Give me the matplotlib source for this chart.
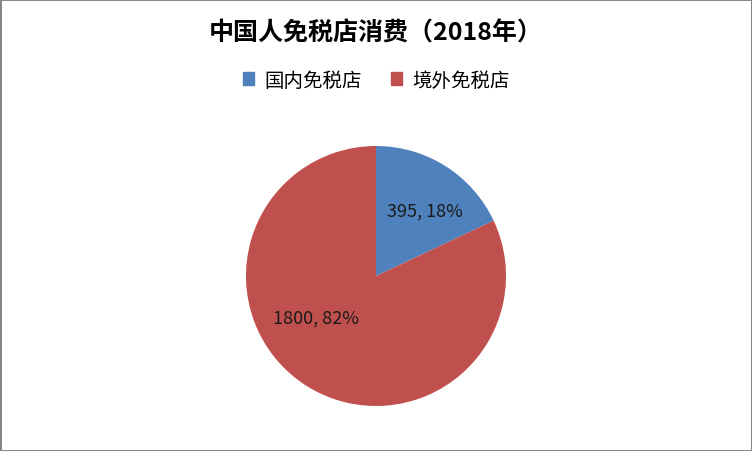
import matplotlib
matplotlib.use("Agg")
import matplotlib.pyplot as plt
import matplotlib.patches as mpatches

plt.rcParams['font.family'] = ['Noto Sans CJK SC', 'DejaVu Sans']

# data
categories = ["国内免税店", "境外免税店"]
values = [395, 1800]
colors = ["#4F81BD", "#C0504D"]
title = "中国人免税店消费（2018年）"

fig = plt.figure(figsize=(7.52, 4.52), dpi=100)
fig.patch.set_edgecolor("#868686")
fig.patch.set_linewidth(2)

# pie centred at about (376, 277) px, radius 130 px
W, H = 752, 452
ax = fig.add_axes([246 / W, (H - 407) / H, 260 / W, 260 / H])
total = sum(values)
wedges, texts = ax.pie(values, colors=colors, startangle=90, counterclock=False,
                       radius=1.0, wedgeprops=dict(linewidth=0))
ax.set_xlim(-1, 1)
ax.set_ylim(-1, 1)
ax.set_aspect("equal")
ax.axis("off")

# data labels (value, percent) placed like Excel's best fit
label_pos = [(0.38, 0.5), (-0.46, -0.32)]
for v, (x, y) in zip(values, label_pos):
    ax.text(x, y, "%d, %d%%" % (v, round(v / total * 100)), ha="center", va="center",
            fontsize=13, color="#1a1a1a")

fig.text(0.5, 1 - 33 / H, title, ha="center", va="center", fontsize=18, fontweight="bold")

handles = [mpatches.Patch(color=c, label=l) for c, l in zip(colors, categories)]
fig.legend(handles=handles, loc="center", bbox_to_anchor=(0.5, 1 - 81 / H), ncol=2,
           frameon=False, fontsize=14, handlelength=0.6, handleheight=0.6,
           handletextpad=0.5, columnspacing=1.5)

fig.savefig("out.png", dpi=100)
